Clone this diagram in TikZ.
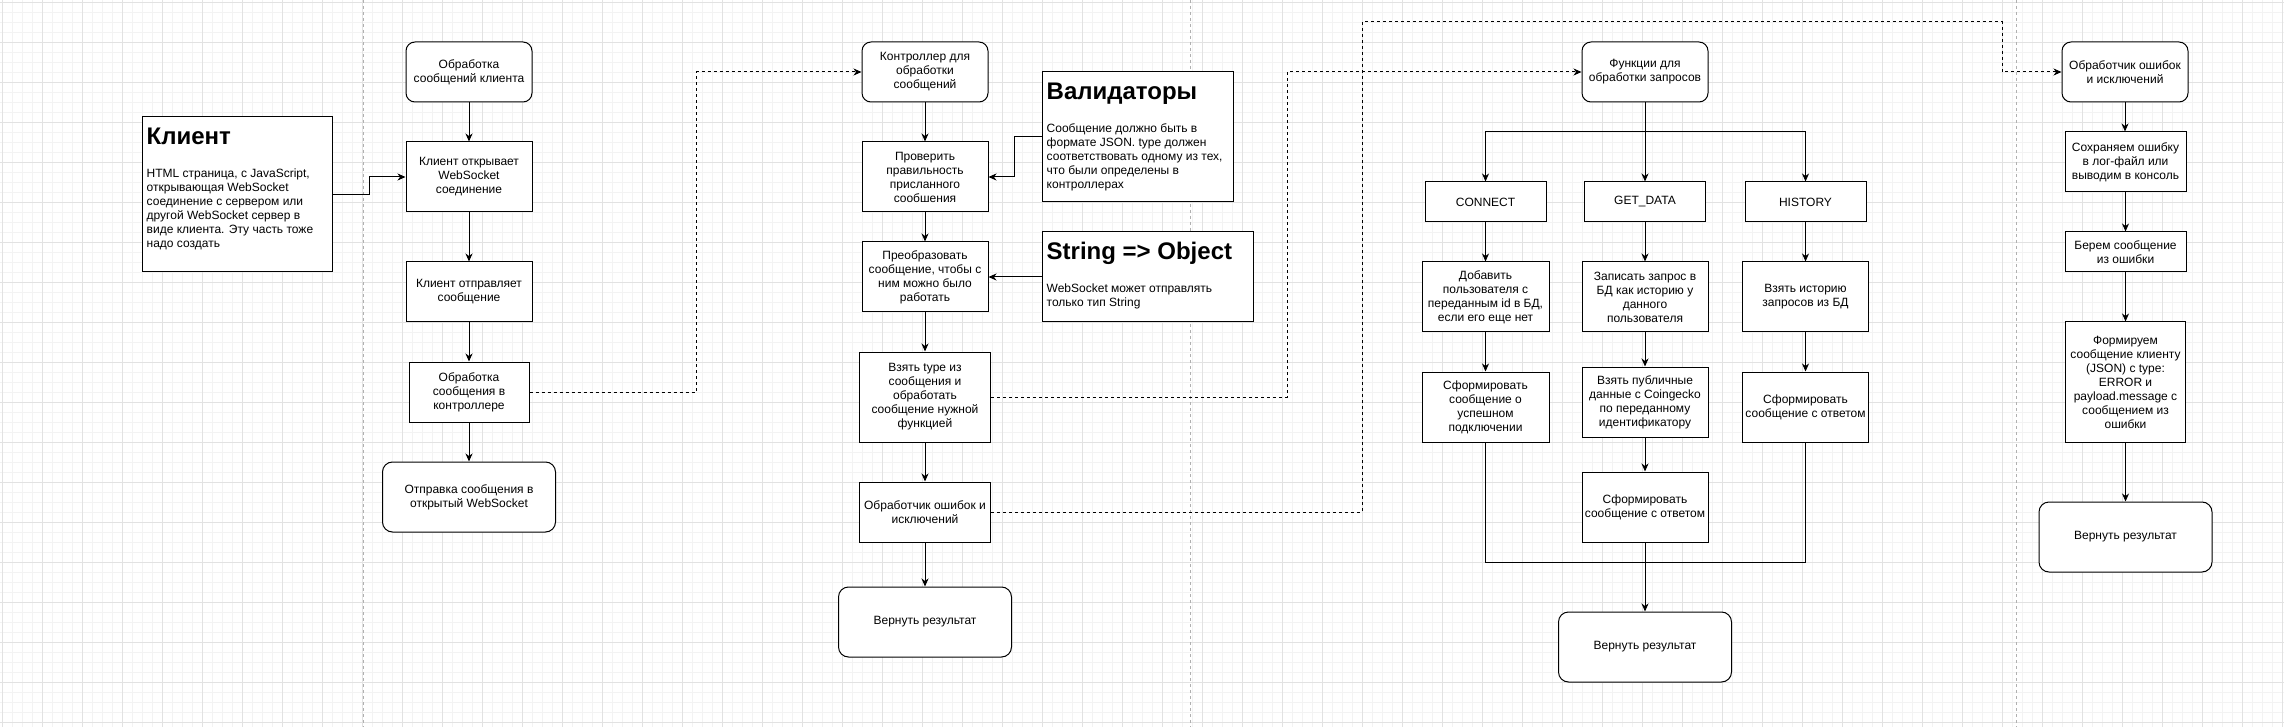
\documentclass[tikz,border=0pt]{standalone}
\usepackage{fontspec}
\setmainfont{Liberation Sans}
\usetikzlibrary{arrows.meta,calc}
\newcommand\boxfont{\fontsize{12}{14}\selectfont}
\newcommand\headfont{\fontsize{24}{28}\selectfont\bfseries}
\definecolor{gridmin}{HTML}{F3F3F3}
\definecolor{gridmaj}{HTML}{E2E2E2}
\definecolor{divgray}{HTML}{B0B0B0}
\tikzset{
  box/.style={draw=black, line width=1pt, fill=white, inner sep=0pt, align=center, font=\boxfont},
  rbox/.style={box, rounded corners=9pt},
  arr/.style={draw=black, line width=1pt, -{Stealth[length=8pt,width=7pt,inset=2.5pt]}},
  darr/.style={arr, dash pattern=on 3pt off 3pt},
  plainline/.style={draw=black, line width=1pt},
  divider/.style={draw=divgray, line width=0.8pt, dash pattern=on 3pt off 3pt},
  headtext/.style={anchor=base west, inner sep=0pt, font=\headfont},
  bodytext/.style={anchor=north west, inner sep=0pt, align=left, font=\boxfont},
}
\begin{document}
\begin{tikzpicture}[x=1pt,y=-1pt]
\useasboundingbox (0,0) rectangle (2284,727);
\fill[white] (0,0) rectangle (2284,727);
% grid
\foreach \i in {0,...,228} \draw[gridmin, line width=0.6pt] ({2+10*\i},0) -- ({2+10*\i},727);
\foreach \j in {0,...,72} \draw[gridmin, line width=0.6pt] (0,{2+10*\j}) -- (2284,{2+10*\j});
\foreach \i in {0,...,57} \draw[gridmaj, line width=0.8pt] ({2+40*\i},0) -- ({2+40*\i},727);
\foreach \j in {0,...,18} \draw[gridmaj, line width=0.8pt] (0,{2+40*\j}) -- (2284,{2+40*\j});
% dividers
\draw[divider] (363,0) -- (363,727);
\draw[divider] (1190,0) -- (1190,727);
\draw[divider] (2016,0) -- (2016,727);

% ---- client text box
\node[box, minimum width=190pt, minimum height=155pt] (client) at (237,194.5) {};
\node[headtext] (clienth) at ([shift={(5,28)}]client.north west) {Клиент};
\node[bodytext] (clientb) at ([shift={(5,52.5)}]client.north west)
  {HTML страница, с JavaScript,\\открывающая WebSocket\\соединение с сервером или\\другой WebSocket сервер в\\виде клиента. Эту часть тоже\\надо создать};

% ---- column 1
\node[rbox, minimum width=126pt, minimum height=60pt] (hdr1) at (469,72) {Обработка\\сообщений клиента};
\node[box, minimum width=126pt, minimum height=70pt] (open) at (469,177) {Клиент открывает\\WebSocket\\соединение};
\node[box, minimum width=126pt, minimum height=60pt] (send) at (469,292) {Клиент отправляет\\сообщение};
\node[box, minimum width=120pt, minimum height=60pt] (proc) at (469,392) {Обработка\\сообщения в\\контроллере};
\node[rbox, rounded corners=10pt, minimum width=173pt, minimum height=70pt] (ws) at (469,497) {Отправка сообщения в\\открытый WebSocket};

% ---- column 2
\node[rbox, minimum width=126pt, minimum height=60pt] (ctrl) at (925,72) {Контроллер для\\обработки\\сообщений};
\node[box, minimum width=126pt, minimum height=70pt] (check) at (925,177) {Проверить\\правильность\\присланного\\сообшения};
\node[box, minimum width=126pt, minimum height=70pt] (convert) at (925,277) {Преобразовать\\сообщение, чтобы с\\ним можно было\\работать};
\node[box, minimum width=131pt, minimum height=90pt] (take) at (925,397) {Взять type из\\сообщения и\\обработать\\сообщение нужной\\функцией};
\node[box, minimum width=131pt, minimum height=60pt] (err) at (925,512) {Обработчик ошибок и\\исключений};
\node[rbox, rounded corners=10pt, minimum width=173pt, minimum height=70pt] (ret1) at (925,622) {Вернуть результат};

\node[box, minimum width=191pt, minimum height=130pt] (val) at (1137.5,137) {};
\node[headtext] (valh) at ([shift={(5,28)}]val.north west) {Валидаторы};
\node[bodytext] (valb) at ([shift={(5,52.5)}]val.north west)
  {Сообщение должно быть в\\формате JSON. type должен\\соответствовать одному из тех,\\что были определены в\\контроллерах};

\node[box, minimum width=211pt, minimum height=90pt] (str) at (1147.5,277) {};
\node[headtext] (strh) at ([shift={(5,28)}]str.north west) {String => Object};
\node[bodytext] (strb) at ([shift={(5,52.5)}]str.north west)
  {WebSocket может отправлять\\только тип String};

% ---- column 3
\node[rbox, minimum width=126pt, minimum height=60pt] (funcs) at (1645,72) {Функции для\\обработки запросов};
\node[box, minimum width=121pt, minimum height=40pt] (connect) at (1485.5,202) {CONNECT};
\node[box, minimum width=121pt, minimum height=40pt] (getdata) at (1645,202) {GET\_DATA};
\node[box, minimum width=121pt, minimum height=40pt] (history) at (1805.5,202) {HISTORY};
\node[box, minimum width=127pt, minimum height=70pt] (addu) at (1485.5,297) {Добавить\\пользователя с\\переданным id в БД,\\если его еще нет};
\node[box, minimum width=126pt, minimum height=70pt] (write) at (1645,297) {Записать запрос в\\БД как историю у\\данного\\пользователя};
\node[box, minimum width=126pt, minimum height=70pt] (hist) at (1805.5,297) {Взять историю\\запросов из БД};
\node[box, minimum width=127pt, minimum height=70pt] (msgok) at (1485.5,407) {Сформировать\\сообщение о\\успешном\\подключении};
\node[box, minimum width=126pt, minimum height=70pt] (coin) at (1645,402) {Взять публичные\\данные с Coingecko\\по переданному\\идентификатору};
\node[box, minimum width=126pt, minimum height=70pt] (histmsg) at (1805.5,407) {Сформировать\\сообщение с ответом};
\node[box, minimum width=126pt, minimum height=70pt] (gdmsg) at (1645,507) {Сформировать\\сообщение с ответом};
\node[rbox, rounded corners=10pt, minimum width=173pt, minimum height=70pt] (ret2) at (1645,647) {Вернуть результат};
\coordinate (split) at (1645,132);
\coordinate (merge) at (1645,562);

% ---- column 4
\node[rbox, minimum width=126pt, minimum height=60pt] (errh) at (2125,72) {Обработчик ошибок\\и исключений};
\node[box, minimum width=121pt, minimum height=60pt] (save) at (2125.5,162) {Сохраняем ошибку\\в лог-файл или\\выводим в консоль};
\node[box, minimum width=121pt, minimum height=40pt] (berem) at (2125.5,252) {Берем сообщение\\из ошибки};
\node[box, minimum width=120pt, minimum height=120pt] (form) at (2125.5,382) {Формируем\\сообщение клиенту\\(JSON) с type:\\ERROR и\\payload.message с\\сообщением из\\ошибки};
\node[rbox, rounded corners=10pt, minimum width=173pt, minimum height=70pt] (ret3) at (2125.5,537) {Вернуть результат};

% ---- connectors column 1
\draw[arr] (client.east) -- ++(37,0) |- (open.west);
\draw[arr] (hdr1.south) -- (hdr1.south |- open.north);
\draw[arr] (open.south) -- (open.south |- send.north);
\draw[arr] (send.south) -- (send.south |- proc.north);
\draw[arr] (proc.south) -- (proc.south |- ws.north);
\draw[darr] (proc.east) -- ++(167,0) |- (ctrl.west);

% ---- connectors column 2
\draw[arr] (ctrl.south) -- (ctrl.south |- check.north);
\draw[arr] (check.south) -- (check.south |- convert.north);
\draw[arr] (convert.south) -- (convert.south |- take.north);
\draw[arr] (take.south) -- (take.south |- err.north);
\draw[arr] (err.south) -- (err.south |- ret1.north);
\draw[arr] (val.west) -- ++(-27,0) |- (check.east);
\draw[arr] (str.west) -- (str.west -| convert.east);
\draw[darr] (take.east) -- ++(296,0) |- (funcs.west);
\draw[darr] (err.east) -- ++(371,0) |- (2002,22) |- (errh.west);

% ---- connectors column 3
\draw[plainline] (funcs.south) -- (split);
\draw[arr] (split) -| (connect.north);
\draw[arr] (split) -- (getdata.north);
\draw[arr] (split) -| (history.north);
\draw[arr] (connect.south) -- (connect.south |- addu.north);
\draw[arr] (getdata.south) -- (getdata.south |- write.north);
\draw[arr] (history.south) -- (history.south |- hist.north);
\draw[arr] (addu.south) -- (addu.south |- msgok.north);
\draw[arr] (write.south) -- (write.south |- coin.north);
\draw[arr] (hist.south) -- (hist.south |- histmsg.north);
\draw[arr] (coin.south) -- (coin.south |- gdmsg.north);
\draw[plainline] (msgok.south) |- (merge);
\draw[plainline] (histmsg.south) |- (merge);
\draw[arr] (gdmsg.south) -- (gdmsg.south |- ret2.north);

% ---- connectors column 4
\draw[arr] (errh.south) -- (errh.south |- save.north);
\draw[arr] (save.south) -- (save.south |- berem.north);
\draw[arr] (berem.south) -- (berem.south |- form.north);
\draw[arr] (form.south) -- (form.south |- ret3.north);
\end{tikzpicture}
\end{document}
